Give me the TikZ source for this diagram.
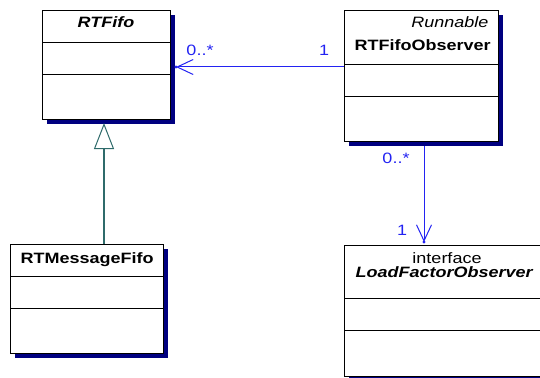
\documentclass[tikz,border=0pt]{standalone}
\usepackage{fontspec}
\setmainfont{Liberation Sans}[FakeStretch=1.2]
\usepackage{xcolor}
\definecolor{umlNavy}{HTML}{000080}
\definecolor{umlBlue}{HTML}{2323F2}
\definecolor{umlTeal}{HTML}{2F6B6B}
\newcommand\umlsize{\fontsize{15}{17}\selectfont}
\usepackage{tikz}
\usetikzlibrary{arrows.meta,calc,shadows}

\begin{document}
\begin{tikzpicture}[x=1pt, y=-1pt, font=\umlsize,
  cls/.style={draw, line width=0.9pt, fill=white, inner sep=0pt, outer sep=0pt, anchor=north west,
    drop shadow={shadow xshift=5pt, shadow yshift=-5pt, fill=umlNavy, opacity=1}},
  compart/.style={line width=0.9pt},
  assoc/.style={umlBlue, line width=1pt, -{Straight Barb[length=16pt, width=15pt, line width=1pt]}},
  mult/.style={umlBlue, anchor=base},
  gen/.style={umlTeal, line width=1.2pt, -{Triangle[open, length=26pt, width=20pt, fill=white, line width=1pt]}}]

  \useasboundingbox (0,0) rectangle (540,377);
  \clip (0,0) rectangle (540,377);

  % RTFifo
  \node[cls, minimum width=128pt, minimum height=109pt] (fifo) at (42,10) {};
  \draw[compart] ([yshift=-32pt]fifo.north west) -- ([yshift=-32pt]fifo.north east);
  \draw[compart] ([yshift=-64pt]fifo.north west) -- ([yshift=-64pt]fifo.north east);
  \node[anchor=base, font=\umlsize\bfseries\itshape] (fifoname) at (106,28) {RTFifo};

  % RTFifoObserver
  \node[cls, minimum width=154pt, minimum height=131pt] (obs) at (344,10) {};
  \draw[compart] ([yshift=-54pt]obs.north west) -- ([yshift=-54pt]obs.north east);
  \draw[compart] ([yshift=-86pt]obs.north west) -- ([yshift=-86pt]obs.north east);
  \node[anchor=base east, font=\umlsize\itshape] (obsstereo) at (492,28) {Runnable};
  \node[anchor=base west, font=\umlsize\bfseries] (obsname) at (351,51) {RTFifoObserver};

  % RTMessageFifo
  \node[cls, minimum width=153pt, minimum height=109pt] (msg) at (10,244) {};
  \draw[compart] ([yshift=-32pt]msg.north west) -- ([yshift=-32pt]msg.north east);
  \draw[compart] ([yshift=-64pt]msg.north west) -- ([yshift=-64pt]msg.north east);
  \node[anchor=base west, font=\umlsize\bfseries] (msgname) at (17,263) {RTMessageFifo};

  % LoadFactorObserver (runs off the right edge)
  \node[cls, minimum width=206pt, minimum height=131pt] (load) at (344,245) {};
  \draw[compart] ([yshift=-53pt]load.north west) -- ([yshift=-53pt]load.north east);
  \draw[compart] ([yshift=-85pt]load.north west) -- ([yshift=-85pt]load.north east);
  \node[anchor=base] (loadstereo) at (447,263) {interface};
  \node[anchor=base west, font=\umlsize\bfseries\itshape] (loadname) at (352,277) {LoadFactorObserver};

  % observer -> fifo
  \coordinate (obsA) at ($(obs.north west)+(0,57)$);
  \coordinate (fifoA) at ($(obsA -| fifo.east)+(6,0)$);
  \draw[assoc] (obsA) -- (fifoA);
  \fill[umlBlue] (fifoA) circle (1.6pt);
  \node[mult] (multA1) at (200,56) {0..*};
  \node[mult] (multA2) at (324,56) {1};

  % observer -> load factor observer
  \coordinate (obsB) at ($(obs.south)+(3,5)$);
  \coordinate (loadB) at ($(obsB |- load.north)+(0,-3)$);
  \draw[assoc] (obsB) -- (loadB);
  \fill[umlBlue] (loadB) circle (1.6pt);
  \node[mult] (multB1) at (396,163) {0..*};
  \node[mult] (multB2) at (402,235) {1};

  % generalization
  \coordinate (fifoG) at ($(fifo.south)+(-2,4)$);
  \draw[gen] (fifoG |- msg.north) -- (fifoG);
\end{tikzpicture}
\end{document}
